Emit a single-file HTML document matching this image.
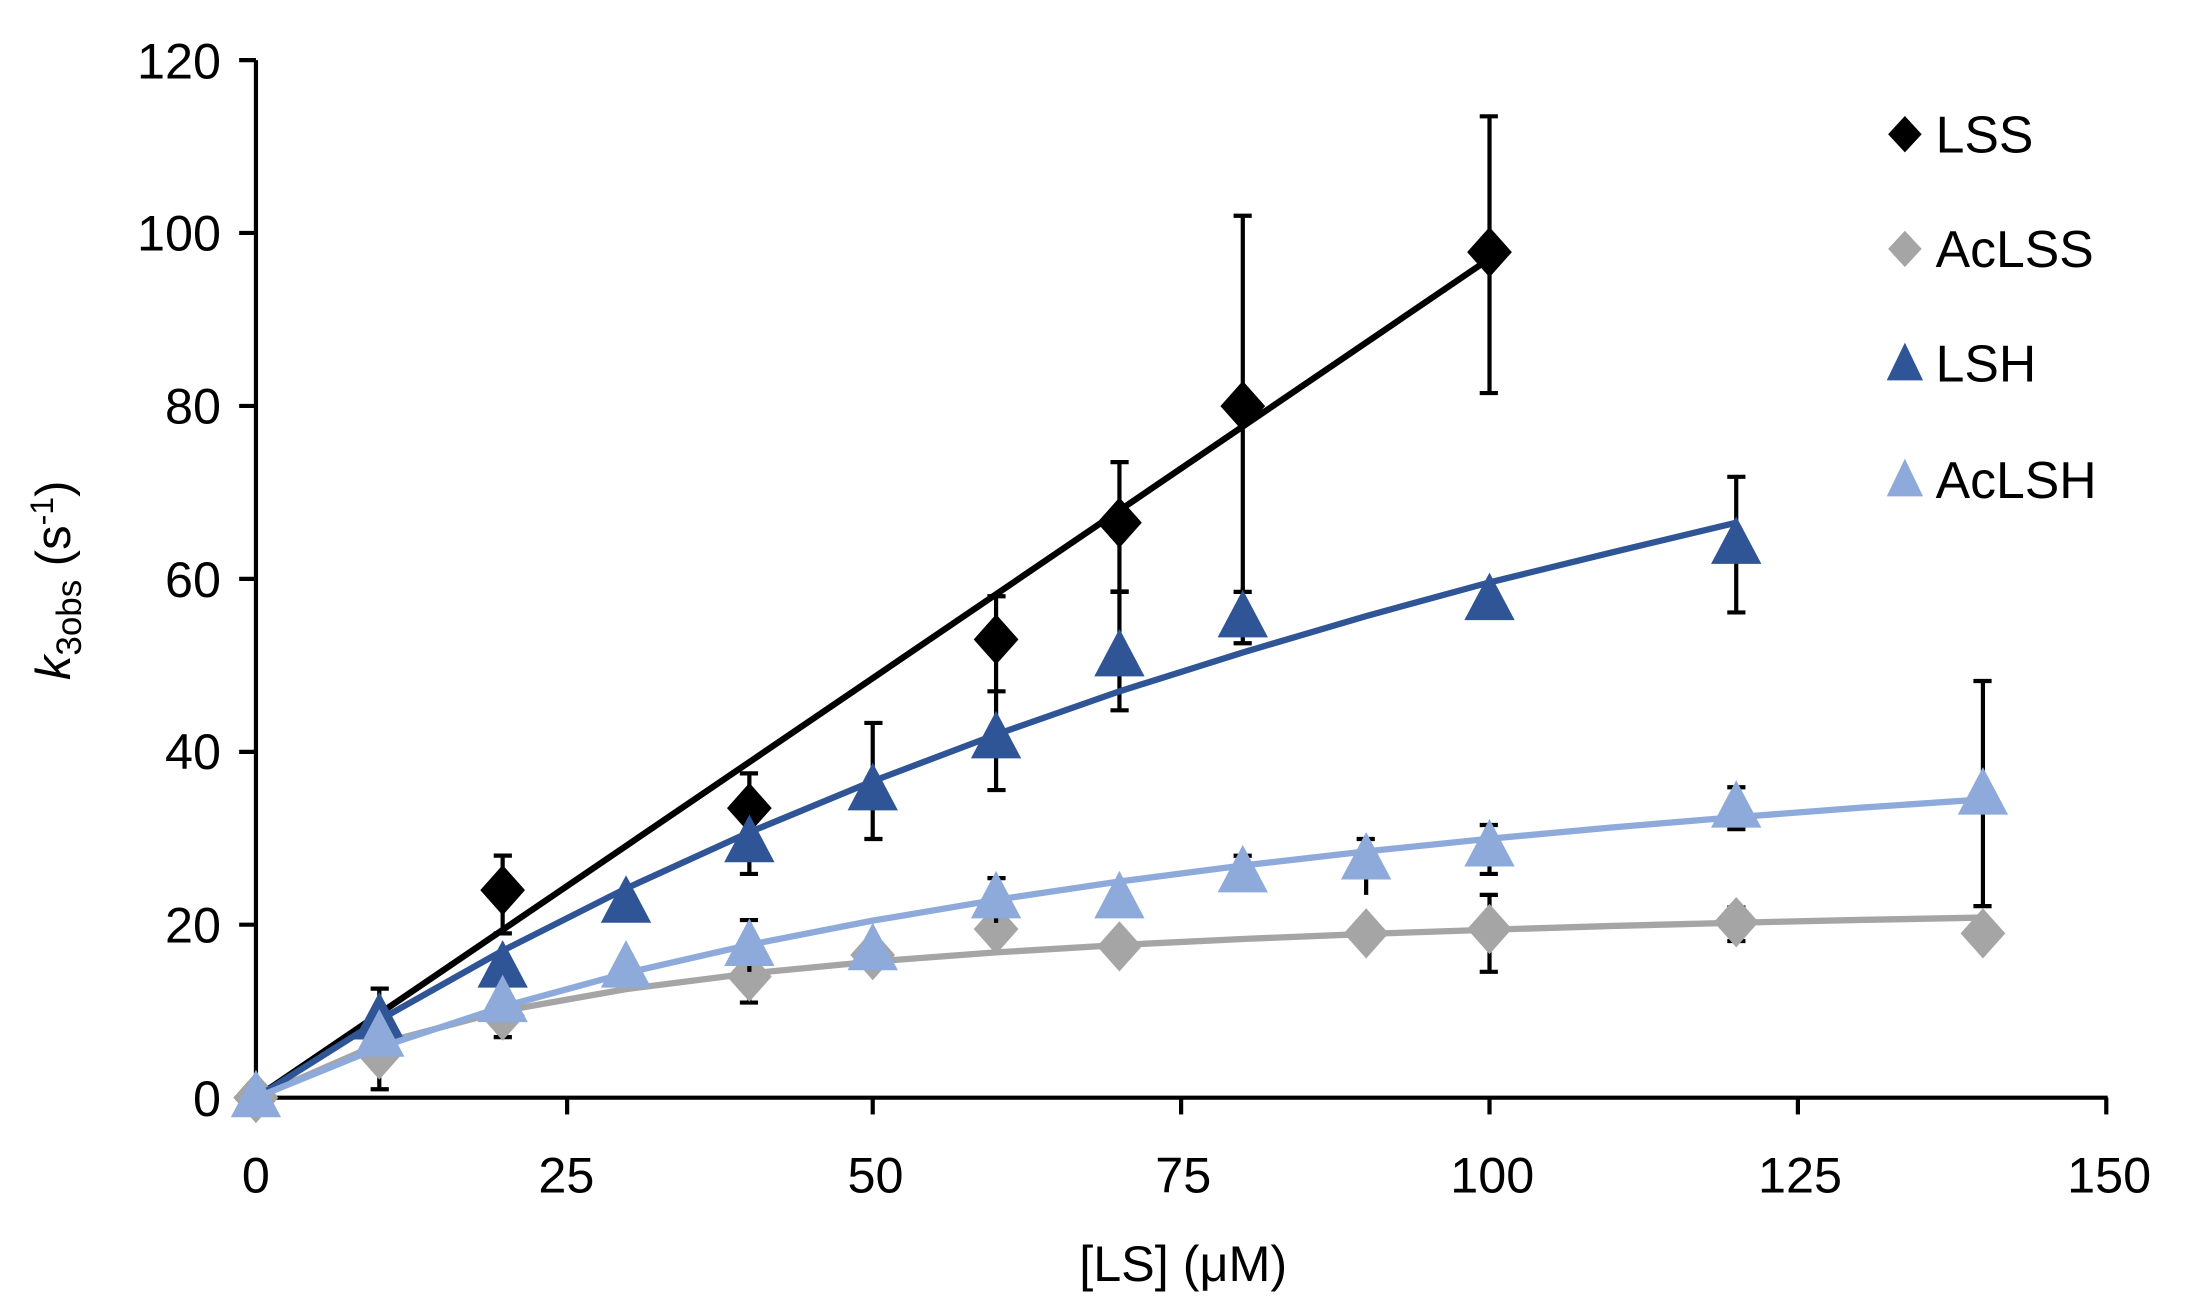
<!DOCTYPE html>
<html><head><meta charset="utf-8"><style>html,body{margin:0;padding:0;background:#fff}svg{display:block}text{font-family:"Liberation Sans",Arial,sans-serif}</style></head>
<body>
<svg width="2193" height="1313" viewBox="0 0 1568 939" preserveAspectRatio="none" xmlns="http://www.w3.org/2000/svg">
<defs>
<path id="d" d="M0,-18 L16,0 L0,18 L-16,0Z"/>
<path id="t" d="M0,-20 L18,14 L-18,14Z"/>
</defs>
<g stroke="#000" stroke-width="3" fill="none">
<line x1="183" y1="43" x2="183" y2="786"/>
<line x1="182" y1="785" x2="1507" y2="785"/>
<line x1="171" y1="43" x2="183" y2="43"/>
<line x1="171" y1="166.6" x2="183" y2="166.6"/>
<line x1="171" y1="290.3" x2="183" y2="290.3"/>
<line x1="171" y1="414" x2="183" y2="414"/>
<line x1="171" y1="537.7" x2="183" y2="537.7"/>
<line x1="171" y1="661.3" x2="183" y2="661.3"/>
<line x1="171" y1="785" x2="183" y2="785"/>
<line x1="405.5" y1="785" x2="405.5" y2="797"/>
<line x1="624" y1="785" x2="624" y2="797"/>
<line x1="844.5" y1="785" x2="844.5" y2="797"/>
<line x1="1065" y1="785" x2="1065" y2="797"/>
<line x1="1285.5" y1="785" x2="1285.5" y2="797"/>
<line x1="1506" y1="785" x2="1506" y2="797"/>
</g>
<g font-size="36" text-anchor="end" fill="#000">
<text x="158" y="56">120</text><text x="158" y="179">100</text><text x="158" y="303">80</text>
<text x="158" y="427">60</text><text x="158" y="550">40</text><text x="158" y="674">20</text><text x="158" y="798">0</text>
</g>
<g font-size="36" text-anchor="middle" fill="#000">
<text x="183" y="853">0</text><text x="405" y="853">25</text><text x="626" y="853">50</text>
<text x="846" y="853">75</text><text x="1067" y="853">100</text><text x="1287" y="853">125</text><text x="1508" y="853">150</text>
<text x="846" y="916">[LS] (μM)</text>
</g>
<text transform="translate(50,415) rotate(-90)" font-size="35" text-anchor="middle"><tspan font-style="italic">k</tspan><tspan font-size="25" dy="8">3obs</tspan><tspan dy="-8"> (s</tspan><tspan font-size="23" dy="-12">-1</tspan><tspan dy="12">)</tspan></text>

<g stroke="#000" stroke-width="3">
<path d="M359.4,667.5V611.9M353,667.5h13M353,611.9h13 M535.8,605.7V553.1M529,605.7h13M529,553.1h13 M712.2,494.4V426.4M706,494.4h13M706,426.4h13 M800.4,423.3V330.5M794,423.3h13M794,330.5h13 M888.6,423.3V154.3M882,423.3h13M882,154.3h13 M1065,281.1V83.2M1058,281.1h13M1058,83.2h13"/>
</g>
<line x1="183" y1="785" x2="1065" y2="185" stroke="#000" stroke-width="4.5"/>
<g fill="#000">
<use href="#d" x="183" y="785"/><use href="#d" x="359.4" y="636.6"/><use href="#d" x="535.8" y="577.9"/>
<use href="#d" x="712.2" y="457.3"/><use href="#d" x="800.4" y="373.8"/><use href="#d" x="888.6" y="290.4"/><use href="#d" x="1065" y="180.3"/>
</g>
<g stroke="#000" stroke-width="3">
<path d="M271.2,779V735.5M265,779h13 M359.4,741.7V717M353,741.7h13 M535.8,717V686M529,717h13 M1065,695V640M1058,695h13M1058,640h13 M1241.4,673V649M1235,673h13M1235,649h13"/>
</g>
<polyline fill="none" stroke="#a5a5a5" stroke-width="4.5" points="183,785 271.2,746.4 359.4,723 447.6,707.4 535.8,696.2 624,687.7 712.2,681.1 800.4,675.8 888.6,671.5 976.8,667.9 1065,664.9 1153.2,662.2 1241.4,659.9 1329.6,657.9 1417.8,656.2"/>
<g fill="#a5a5a5">
<use href="#d" x="183" y="785"/><use href="#d" x="271.2" y="754.1"/><use href="#d" x="359.4" y="726.3"/><use href="#d" x="535.8" y="698.4"/>
<use href="#d" x="624" y="683"/><use href="#d" x="712.2" y="664.4"/><use href="#d" x="800.4" y="676.8"/><use href="#d" x="976.8" y="667.5"/>
<use href="#d" x="1065" y="664.4"/><use href="#d" x="1241.4" y="659.5"/><use href="#d" x="1417.8" y="667.5"/>
</g>
<g stroke="#000" stroke-width="3">
<path d="M271.2,707V749M265,707h13 M535.8,625V602.6M529,625h13 M624,600V517M618,600h13M618,517h13 M712.2,565V493M706,565h13 M800.4,508V423M794,508h13M794,423h13 M888.6,460V420M882,460h13 M1241.4,438V341M1235,438h13M1235,341h13"/>
</g>
<polyline fill="none" stroke="#2f5597" stroke-width="4.5" points="183,785 271.2,729.5 359.4,679.9 447.6,635.4 535.8,595.2 624,558.7 712.2,525.3 800.4,494.4 888.6,466.6 976.8,440.6 1065,416.5 1153.2,394.9 1241.4,373.8"/>
<g fill="#2f5597">
<use href="#t" x="271.2" y="729.4"/><use href="#t" x="359.4" y="692.3"/><use href="#t" x="447.6" y="645.9"/><use href="#t" x="535.8" y="602.6"/>
<use href="#t" x="624" y="565.5"/><use href="#t" x="712.2" y="528.4"/><use href="#t" x="800.4" y="469.7"/><use href="#t" x="888.6" y="441.8"/>
<use href="#t" x="1065" y="429.5"/><use href="#t" x="1241.4" y="389.3"/>
</g>
<g stroke="#000" stroke-width="3">
<path d="M535.8,695V658M529,658h13 M712.2,660V628M706,628h13 M888.6,635V612M882,612h13 M976.8,640V600M970,600h13 M1065,625V590M1058,590h13M1058,625h13 M1241.4,593V563M1235,563h13M1235,593h13 M1417.8,648V487M1411,648h13M1411,487h13"/>
</g>
<polyline fill="none" stroke="#8eaadb" stroke-width="4.5" points="183,785 271.2,749.1 359.4,720 447.6,695.9 535.8,675.7 624,658.4 712.2,643.5 800.4,630.4 888.6,619 976.8,608.9 1065,599.8 1153.2,591.7 1241.4,584.4 1329.6,577.7 1417.8,571.7"/>
<g fill="#8eaadb">
<use href="#t" x="183" y="785"/><use href="#t" x="271.2" y="741.7"/><use href="#t" x="359.4" y="717"/><use href="#t" x="447.6" y="692.3"/>
<use href="#t" x="535.8" y="676.8"/><use href="#t" x="624" y="679.9"/><use href="#t" x="712.2" y="642.8"/><use href="#t" x="800.4" y="642.8"/>
<use href="#t" x="888.6" y="624.2"/><use href="#t" x="976.8" y="615"/><use href="#t" x="1065" y="605.7"/><use href="#t" x="1241.4" y="577.9"/><use href="#t" x="1417.8" y="568.6"/>
</g>
<g font-size="37" fill="#000">
<path d="M1362,83 L1374,96 L1362,109 L1350,96Z" fill="#000"/><text x="1384" y="109">LSS</text>
<path d="M1362,165 L1374,178 L1362,191 L1350,178Z" fill="#a5a5a5"/><text x="1384" y="191">AcLSS</text>
<path d="M1362,245 L1375,272 L1349,272Z" fill="#2f5597"/><text x="1384" y="273">LSH</text>
<path d="M1362,328 L1375,355 L1349,355Z" fill="#8eaadb"/><text x="1384" y="356">AcLSH</text>
</g>
</svg>
</body></html>
